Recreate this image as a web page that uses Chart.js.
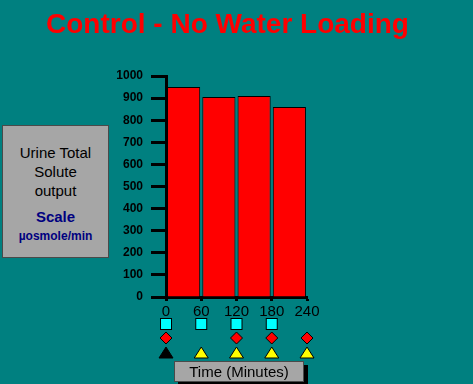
<!DOCTYPE html>
<html>
<head>
<meta charset="utf-8">
<script src="https://cdn.jsdelivr.net/npm/chart.js@4/dist/chart.umd.min.js"></script>
<style>
  body { margin: 0; background: #008080; width: 473px; height: 384px; overflow: hidden; position: relative; font-family: Arial, "Liberation Sans", sans-serif; }
  #chart { position: absolute; left: 0; top: 0; }
  .side_box { position: absolute; left: 2px; top: 125px; width: 105px; height: 131px; background: #a6a6a6; border: 1px solid #4a4a4a; text-align: center; }
  .side_box .t { font-size: 15px; color: #000; line-height: 19px; }
  .side_box .s { font-size: 15px; font-weight: bold; color: #000080; margin-top: 8px; }
  .side_box .u { font-size: 12px; font-weight: bold; color: #000080; margin-top: 4px; }
  .time_box { position: absolute; left: 174px; top: 361px; width: 128px; height: 19px; background: #a6a6a6; border: 1px solid #4a4a4a; box-shadow: 4px 4px 0 #000; text-align: center; font-size: 15px; line-height: 19px; color: #000; }
</style>
</head>
<body>
<canvas id="chart" width="473" height="384"></canvas>
<div class="side_box">
  <div class="t" style="margin-top:17px">Urine Total<br>Solute<br>output</div>
  <div class="s">Scale</div>
  <div class="u">µosmole/min</div>
</div>
<div class="time_box">Time (Minutes)</div>
<script>
"use strict";

// Daten
const interval_mid = [30, 90, 150, 210];
const solute_output = [950, 905, 910, 860];
const square_times = [0, 60, 120, 180];
const diamond_times = [0, 120, 180, 240];
const triangle_times = [0, 60, 120, 180, 240];
const triangle_colors = ["#000000", "#ffff00", "#ffff00", "#ffff00", "#ffff00"];

// Marker-Zeilen unter der x-Achse
const marker_plugin = {
  id: "marker_rows",
  afterDraw(chart) {
    const ctx = chart.ctx;
    const x_scale = chart.scales.x;
    const base = chart.chartArea.bottom;
    ctx.save();
    ctx.lineWidth = 1;
    ctx.strokeStyle = "#000";

    square_times.forEach((t) => {
      const px = x_scale.getPixelForValue(t);
      const py = base + 27;
      ctx.fillStyle = "#00ffff";
      ctx.fillRect(px - 5.5, py - 5.5, 11, 11);
      ctx.strokeRect(px - 5.5, py - 5.5, 11, 11);
    });

    diamond_times.forEach((t) => {
      const px = x_scale.getPixelForValue(t);
      const py = base + 41;
      ctx.beginPath();
      ctx.moveTo(px, py - 6);
      ctx.lineTo(px + 6, py);
      ctx.lineTo(px, py + 6);
      ctx.lineTo(px - 6, py);
      ctx.closePath();
      ctx.fillStyle = "#ff0000";
      ctx.fill();
      ctx.stroke();
    });

    triangle_times.forEach((t, i) => {
      const px = x_scale.getPixelForValue(t);
      const py = base + 56;
      ctx.beginPath();
      ctx.moveTo(px, py - 6);
      ctx.lineTo(px + 7, py + 5);
      ctx.lineTo(px - 7, py + 5);
      ctx.closePath();
      ctx.fillStyle = triangle_colors[i];
      ctx.fill();
      ctx.stroke();
    });
    ctx.restore();
  },
};

const data = {
  datasets: [
    {
      label: "Urine Total Solute output",
      data: interval_mid.map((x, i) => ({ x: x, y: solute_output[i] })),
      backgroundColor: "#ff0000",
      borderColor: "#000000",
      borderWidth: 1,
      categoryPercentage: 1.0,
      barPercentage: 0.94,
    },
  ],
};

const config = {
  type: "bar",
  data: data,
  plugins: [marker_plugin],
  options: {
    responsive: false,
    animation: false,
    layout: { padding: { left: 0, right: 18, top: 0, bottom: 0 } },
    plugins: {
      legend: { display: false },
      tooltip: { enabled: false },
      title: {
        display: true,
        text: "Control - No Water Loading",
        color: "#ff0000",
        font: { family: "Arial", size: 28, weight: "bold", lineHeight: 1 },
        padding: { top: 11, bottom: 37 },
      },
    },
    scales: {
      x: {
        type: "linear",
        min: 0,
        max: 240,
        offset: false,
        afterFit: (scale) => { scale.height = 87; },
        border: { color: "#000", width: 3 },
        grid: { offset: false, drawOnChartArea: false, tickLength: 4, tickWidth: 3, tickColor: "#000" },
        ticks: { stepSize: 60, color: "#000", padding: 2, font: { family: "Arial", size: 15 } },
      },
      y: {
        min: 0,
        max: 1000,
        afterFit: (scale) => { scale.width = 166; },
        border: { color: "#000", width: 3 },
        grid: { drawOnChartArea: false, tickLength: 15, tickWidth: 3, tickColor: "#000" },
        ticks: {
          stepSize: 100,
          color: "#000",
          padding: 8,
          font: { family: "Arial", size: 12, weight: "bold" },
          callback: (value) => String(value),
        },
      },
      yr: {
        position: "right",
        afterFit: (scale) => { scale.width = 148; },
        border: { display: false },
        grid: { display: false },
        ticks: { display: false },
      },
    },
  },
};

new Chart(document.getElementById("chart"), config);
</script>
</body>
</html>
